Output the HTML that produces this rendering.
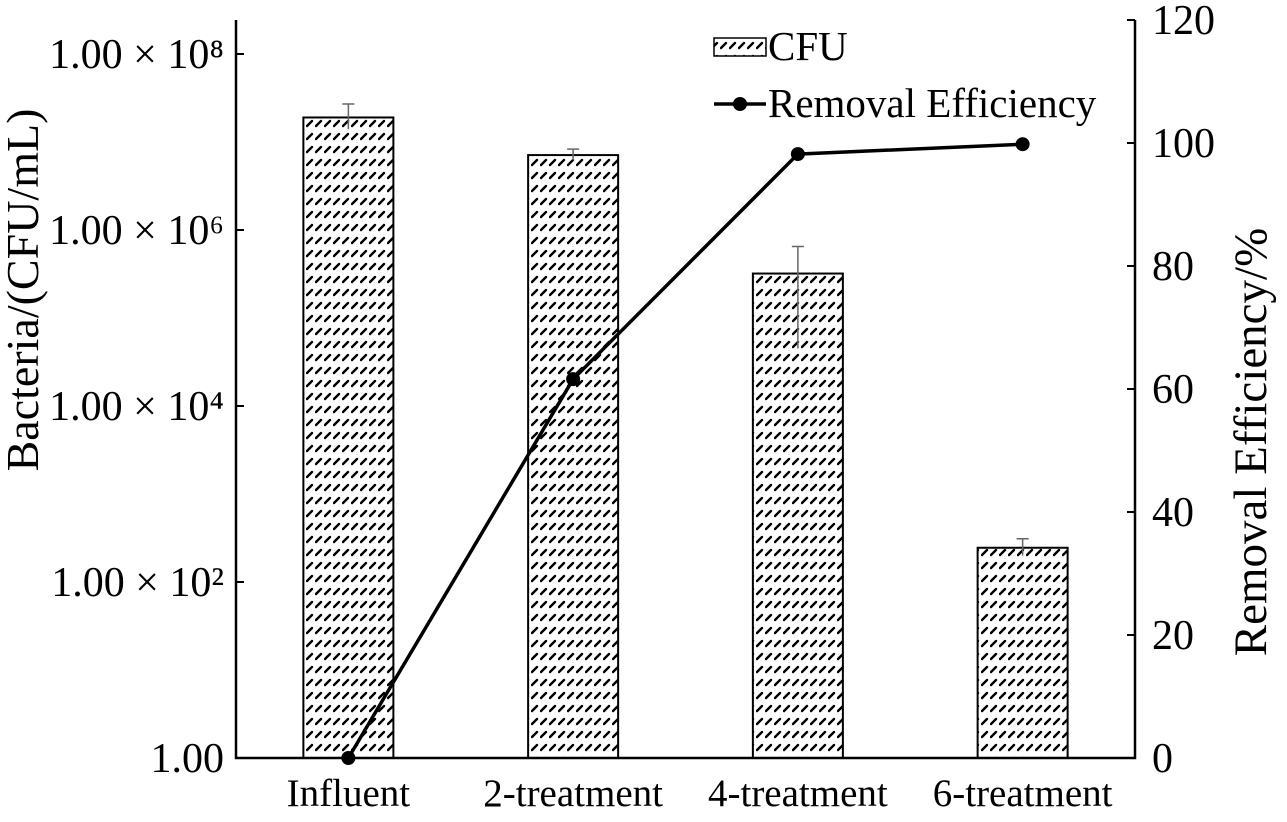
<!DOCTYPE html>
<html><head><meta charset="utf-8"><style>
body{margin:0;background:#fff;}
svg text{font-family:"Liberation Serif",serif;fill:#000;}
</style></head><body>
<svg id="chart" width="1287" height="817">
<defs>
<pattern id="hatch" width="9" height="13" patternUnits="userSpaceOnUse">
<rect width="9" height="13" fill="#fff"/>
<line x1="1" y1="9" x2="6" y2="4" stroke="#000" stroke-width="2.4" stroke-linecap="round"/>
</pattern>
</defs>
<g id="g"></g>
</svg>
<script>
const categories=["Influent","2-treatment","4-treatment","6-treatment"];
const cfu=[1.9e7,7.1e6,3.2e5,245];
const errHigh=[2.7e7,8.3e6,6.5e5,310];
const errLow=[1.4e7,6.2e6,4.5e4,200];
const efficiency=[0,61.6,98.2,99.8];
const leftTicks=[0,2,4,6,8];
const leftTickLabels=["1.00","1.00 × 10²","1.00 × 10⁴","1.00 × 10⁶","1.00 × 10⁸"];
const rightTicks=[0,20,40,60,80,100,120];

const NS="http://www.w3.org/2000/svg";
const g=document.getElementById('g');
const L=236,R=1135,B=758,T=20;
const yL=v=>B-Math.log10(v)*88;
const yLe=e=>B-e*88;
const yR=v=>B-v/120*(B-T);
const xC=i=>L+(i+0.5)*(R-L)/categories.length;
function mk(t,a,txt){const e=document.createElementNS(NS,t);for(const k in a)e.setAttribute(k,a[k]);if(txt!==undefined)e.textContent=txt;g.appendChild(e);return e;}

cfu.forEach((v,i)=>{
 const x=xC(i);
 const r=mk('rect',{x:x-45,y:yL(v),width:90,height:B-yL(v),fill:'url(#hatch)',stroke:'#000','stroke-width':2});
 
 
 const e=mk('path',{d:`M${x},${yL(errLow[i])}V${yL(errHigh[i])}M${x-6},${yL(errHigh[i])}H${x+6}`,stroke:'#666','stroke-width':1.5,fill:'none'});
 
 
 const t=mk('text',{x:x,y:806,'font-size':39,'text-anchor':'middle'},categories[i]);
 
 
});
const ax=mk('path',{d:`M${L},${T}V${B}H${R}V${T}`,stroke:'#000','stroke-width':2.5,fill:'none'});


leftTicks.forEach((e,i)=>{
 const y=yLe(e);
 mk('line',{x1:L,x2:L+8,y1:y,y2:y,stroke:'#000','stroke-width':2});
 const t=mk('text',{x:224,y:y+14,'font-size':42,'text-anchor':'end'},leftTickLabels[i]);
 
 
});
rightTicks.forEach(v=>{
 const y=yR(v);
 mk('line',{x1:R-8,x2:R,y1:y,y2:y,stroke:'#000','stroke-width':2});
 const t=mk('text',{x:1152,y:y+14,'font-size':42},String(v));
 
 
});
const pts=efficiency.map((v,i)=>xC(i)+','+yR(v)).join(' ');
const pl=mk('polyline',{points:pts,fill:'none',stroke:'#000','stroke-width':3.5});


efficiency.forEach((v,i)=>{
 const c=mk('circle',{cx:xC(i),cy:yR(v),r:7,fill:'#000'});
 
 
});
const yt=mk('text',{x:0,y:0,'font-size':46,'text-anchor':'middle',transform:'translate(44,290) rotate(-90)'},'Bacteria/(CFU/mL)');
yt.setAttribute('transform','translate(44,290) rotate(-90)');
yt.setAttribute('x','0');yt.setAttribute('y','-6');


const yt2=mk('text',{x:0,y:0,'font-size':47,'text-anchor':'middle',transform:'translate(1266,442) rotate(-90)'},'Removal Efficiency/%');


const lr=mk('rect',{x:714,y:38,width:52,height:18,fill:'url(#hatch)',stroke:'#000','stroke-width':1.5});


const lt=mk('text',{x:768,y:60,'font-size':41},'CFU');


mk('line',{x1:714,x2:766,y1:104,y2:104,stroke:'#000','stroke-width':3.5});
mk('circle',{cx:740,cy:104,r:7,fill:'#000'});
const lt2=mk('text',{x:768,y:117,'font-size':41},'Removal Efficiency');


</script>
</body></html>
